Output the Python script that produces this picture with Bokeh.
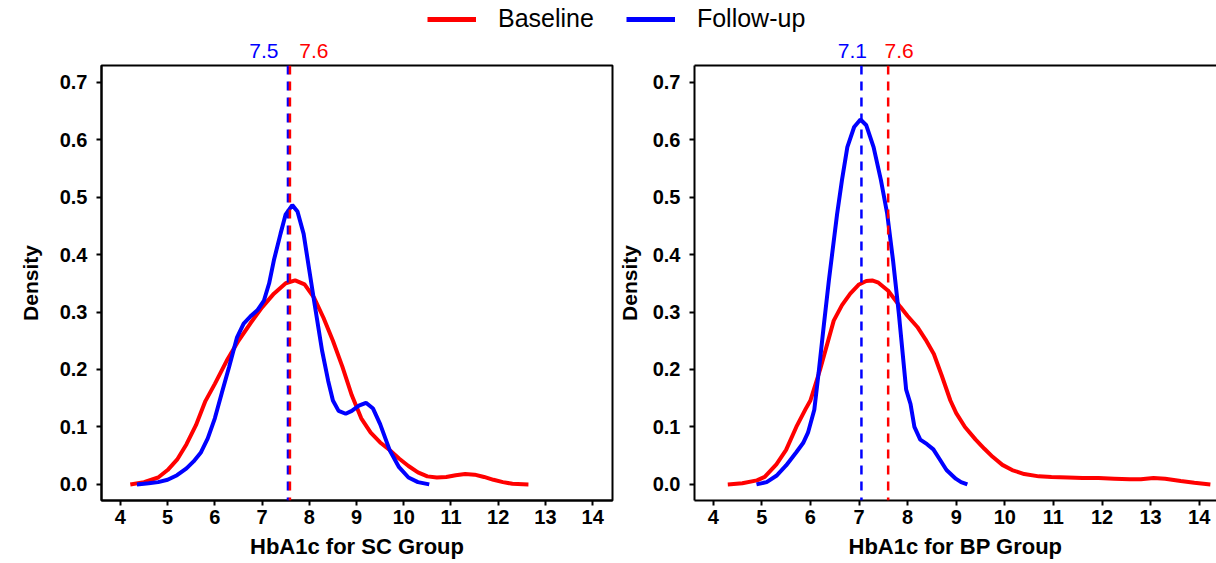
from bokeh.plotting import figure
from bokeh.models import (Range1d, FixedTicker, NumeralTickFormatter, Span,
                          Legend, LegendItem, LinearAxis)
from bokeh.core.properties import value
from bokeh.layouts import column, row
from bokeh.embed import file_html
from bokeh.resources import INLINE

# ---------------- data ----------------
sc_base_x = [4.21, 4.5, 4.8, 5.0, 5.2, 5.4, 5.6, 5.8, 6.0, 6.25, 6.5, 6.75, 7.0, 7.25, 7.5, 7.7,
             7.9, 8.1, 8.3, 8.5, 8.7, 8.9, 9.1, 9.3, 9.5, 9.7, 9.9, 10.1, 10.3, 10.5, 10.7, 10.9,
             11.1, 11.3, 11.5, 11.7, 11.9, 12.1, 12.3, 12.64]
sc_base_y = [0.0, 0.004, 0.012, 0.025, 0.043, 0.07, 0.103, 0.145, 0.175, 0.215, 0.25, 0.28, 0.308,
             0.332, 0.35, 0.355, 0.348, 0.325, 0.29, 0.25, 0.205, 0.155, 0.115, 0.09, 0.073, 0.06,
             0.045, 0.032, 0.021, 0.014, 0.012, 0.013, 0.016, 0.018, 0.017, 0.013, 0.008, 0.004,
             0.001, 0.0]
sc_follow_x = [4.35, 4.6, 4.8, 5.0, 5.2, 5.4, 5.55, 5.7, 5.85, 6.0, 6.15, 6.3, 6.47, 6.61, 6.75,
               6.9, 7.04, 7.15, 7.25, 7.39, 7.5, 7.64, 7.75, 7.88, 7.99, 8.1, 8.27, 8.4, 8.5, 8.62,
               8.77, 8.9, 9.05, 9.2, 9.35, 9.5, 9.7, 9.9, 10.1, 10.3, 10.54]
sc_follow_y = [0.0, 0.002, 0.004, 0.008, 0.016, 0.028, 0.04, 0.055, 0.08, 0.115, 0.16, 0.204, 0.256,
               0.28, 0.292, 0.303, 0.32, 0.35, 0.39, 0.436, 0.47, 0.486, 0.475, 0.436, 0.378, 0.32,
               0.233, 0.18, 0.146, 0.128, 0.123, 0.128, 0.137, 0.142, 0.132, 0.105, 0.06, 0.03,
               0.012, 0.004, 0.0]

bp_base_x = [4.3, 4.6, 4.9, 5.06, 5.3, 5.5, 5.71, 5.9, 6.0, 6.2, 6.48, 6.65, 6.82, 7.0, 7.15, 7.27,
             7.4, 7.6, 7.85, 8.0, 8.2, 8.37, 8.54, 8.7, 8.88, 9.0, 9.18, 9.4, 9.58, 9.75, 9.95,
             10.15, 10.4, 10.7, 10.96, 11.3, 11.6, 11.93, 12.25, 12.57, 12.8, 13.06, 13.3, 13.62,
             13.9, 14.23]
bp_base_y = [0.0, 0.002, 0.007, 0.013, 0.035, 0.06, 0.1, 0.131, 0.146, 0.2, 0.285, 0.312, 0.332,
             0.348, 0.354, 0.355, 0.351, 0.337, 0.309, 0.293, 0.274, 0.252, 0.227, 0.19, 0.146,
             0.124, 0.1, 0.078, 0.062, 0.048, 0.034, 0.025, 0.018, 0.014, 0.013, 0.012, 0.011,
             0.011, 0.01, 0.009, 0.009, 0.011, 0.01, 0.006, 0.003, 0.0]
bp_follow_x = [4.89, 5.1, 5.3, 5.5, 5.71, 5.85, 5.95, 6.08, 6.17, 6.28, 6.38, 6.55, 6.65, 6.76,
               6.9, 7.03, 7.15, 7.3, 7.45, 7.58, 7.7, 7.82, 7.97, 8.06, 8.14, 8.26, 8.4, 8.53,
               8.65, 8.8, 8.99, 9.1, 9.23]
bp_follow_y = [0.0, 0.004, 0.015, 0.033, 0.056, 0.072, 0.09, 0.13, 0.195, 0.28, 0.355, 0.471, 0.53,
               0.587, 0.622, 0.635, 0.625, 0.587, 0.53, 0.471, 0.39, 0.297, 0.165, 0.14, 0.1,
               0.078, 0.07, 0.061, 0.045, 0.025, 0.01, 0.004, 0.0]

# group means (line positions) and their printed labels [follow-up, baseline]
sc_means = [7.548, 7.59]
sc_mean_labels = ["7.5", "7.6"]
bp_means = [7.05, 7.6]
bp_mean_labels = ["7.1", "7.6"]

x_ticks = [4, 5, 6, 7, 8, 9, 10, 11, 12, 13, 14]
y_ticks = [0.0, 0.1, 0.2, 0.3, 0.4, 0.5, 0.6, 0.7]
series_names = ["Baseline", "Follow-up"]
x_titles = ["HbA1c for SC Group", "HbA1c for BP Group"]

RED = "#FF0000"
BLUE = "#0000FF"
FONT = "Liberation Sans"
FONT_VALUE = value(FONT)
MEAN_COLORS = [BLUE, RED]

LEG_H = 35      # legend strip height
STRIP_H = 29    # mean-label strip height
PANEL_H = 563 - LEG_H - STRIP_H


def make_panel(title, base_x, base_y, fol_x, fol_y, means, x_range,
               width, border_left, border_right, label_standoff, full_box):
    p = figure(width=width, height=PANEL_H, output_backend="svg", toolbar_location=None,
               x_range=x_range, y_range=Range1d(-0.028, 0.729),
               min_border_left=border_left, min_border_right=border_right,
               min_border_top=1, min_border_bottom=63)
    p.xgrid.visible = False
    p.ygrid.visible = False
    if full_box:
        p.outline_line_color = "black"
        p.outline_line_width = 2
    else:
        p.outline_line_color = None
        top = LinearAxis(ticker=FixedTicker(ticks=[]), axis_line_width=2, axis_line_color="black",
                         major_tick_out=0, major_tick_in=0, minor_tick_out=0, minor_tick_in=0,
                         major_label_text_font_size="0px", major_label_standoff=0)
        p.add_layout(top, "above")

    p.line(base_x, base_y, line_color=RED, line_width=4)
    p.line(fol_x, fol_y, line_color=BLUE, line_width=4)

    for m, c in zip(means, MEAN_COLORS):
        p.add_layout(Span(location=m, dimension="height", line_color=c, line_width=2.5,
                          line_dash="9 7"))

    xa = p.below[0]
    xa.ticker = FixedTicker(ticks=x_ticks)
    xa.axis_label = title
    ya = p.left[0]
    ya.ticker = FixedTicker(ticks=y_ticks)
    ya.formatter = NumeralTickFormatter(format="0.0")
    ya.axis_label = "Density"
    for ax in (xa, ya):
        ax.axis_line_width = 2
        ax.axis_line_color = "black"
        ax.major_tick_line_width = 2
        ax.major_tick_line_color = "black"
        ax.major_tick_in = 0
        ax.major_tick_out = 5
        ax.minor_tick_out = 0
        ax.minor_tick_in = 0
        ax.major_label_text_font = FONT
        ax.major_label_text_font_style = "bold"
        ax.major_label_text_color = "black"
        ax.axis_label_text_font = FONT
        ax.axis_label_text_font_style = "bold"
        ax.axis_label_text_color = "black"
    xa.major_label_text_font_size = "20px"
    xa.major_label_standoff = 4
    xa.axis_label_text_font_size = "22px"
    xa.axis_label_standoff = 7
    ya.major_label_text_font_size = "20px"
    ya.major_label_standoff = 9
    ya.axis_label_text_font_size = "21px"
    ya.axis_label_standoff = label_standoff
    return p


def make_mean_strip(means, labels, x_range, width, border_left, border_right, offsets):
    s = figure(width=width, height=STRIP_H, output_backend="svg", toolbar_location=None,
               x_range=x_range, y_range=Range1d(0, 1), x_axis_type=None, y_axis_type=None,
               min_border_left=border_left, min_border_right=border_right,
               min_border_top=0, min_border_bottom=0)
    s.outline_line_color = None
    s.xgrid.visible = False
    s.ygrid.visible = False
    for m, lab, c, off in zip(means, labels, MEAN_COLORS, offsets):
        s.text(x=[m], y=[0.45], text=[lab], text_color=c, text_align="center",
               text_baseline="middle", x_offset=off, text_font=FONT_VALUE,
               text_font_size="21px")
    return s


xr1 = Range1d(3.6, 14.42)
xr2 = Range1d(3.615, 14.356)

p1 = make_panel(x_titles[0], sc_base_x, sc_base_y, sc_follow_x, sc_follow_y, sc_means,
                xr1, 614, 101, 2, 15, True)
p2 = make_panel(x_titles[1], bp_base_x, bp_base_y, bp_follow_x, bp_follow_y, bp_means,
                xr2, 602, 80, 0, 9, False)

s1 = make_mean_strip(sc_means, sc_mean_labels, xr1, 614, 101, 2, [-24, 24])
s2 = make_mean_strip(bp_means, bp_mean_labels, xr2, 602, 80, 0, [-9, 11])

# legend strip (legend renderers use the series data, drawn out of view)
leg = figure(width=1216, height=LEG_H, output_backend="svg", toolbar_location=None,
             x_axis_type=None, y_axis_type=None, x_range=Range1d(100, 101),
             y_range=Range1d(100, 101),
             min_border_left=0, min_border_right=0, min_border_top=0, min_border_bottom=0)
leg.outline_line_color = None
leg.xgrid.visible = False
leg.ygrid.visible = False
r_base = leg.line(sc_base_x, sc_base_y, line_color=RED, line_width=5)
r_fol = leg.line(sc_follow_x, sc_follow_y, line_color=BLUE, line_width=5)
legend = Legend(items=[LegendItem(label=series_names[0], renderers=[r_base]),
                       LegendItem(label=series_names[1], renderers=[r_fol])],
                orientation="horizontal", location=(427, 2), glyph_width=49, glyph_height=28,
                label_height=28, label_standoff=22, spacing=32, padding=0, margin=0,
                border_line_alpha=0, background_fill_alpha=0, label_text_font=FONT,
                label_text_font_size="25px", label_text_color="black")
leg.add_layout(legend)

layout = column(leg, row(s1, s2), row(p1, p2))
open("out.html", "w").write(file_html(layout, INLINE))
